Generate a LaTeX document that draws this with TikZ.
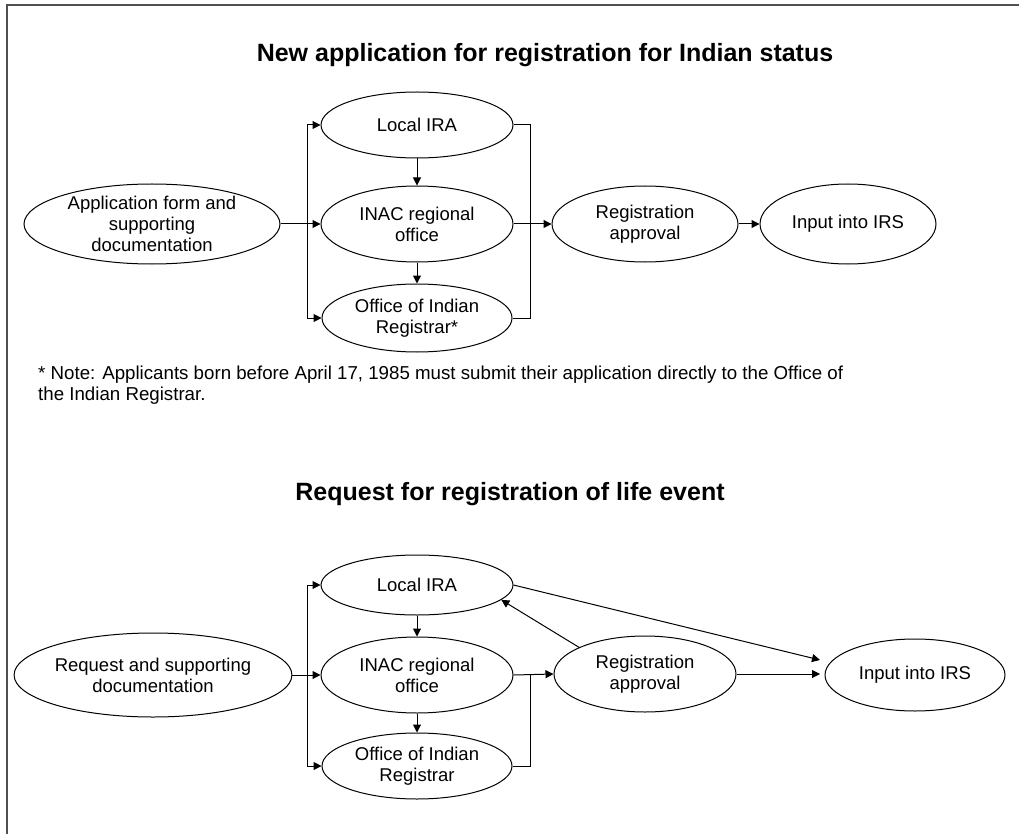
\documentclass[tikz,border=0pt]{standalone}
\usepackage{fontspec}
\setmainfont{Liberation Sans}
\usetikzlibrary{shapes.geometric,arrows.meta}
\definecolor{framegray}{RGB}{80,80,80}
\tikzset{
  stage/.style={ellipse,draw,line width=1pt,inner sep=0pt,align=center,font=\fontsize{18.5}{21}\selectfont},
  flow/.style={line width=1pt,-{Triangle[length=8pt,width=8pt]}},
  link/.style={line width=1pt},
  heading/.style={font=\fontsize{25}{28}\selectfont\bfseries},
  remark/.style={align=left,inner sep=0pt,font=\fontsize{18.7}{21}\selectfont},
}

\begin{document}
\begin{tikzpicture}[x=1pt,y=-1pt]
\useasboundingbox (0,0) rectangle (1019,834);
\draw[framegray,line width=2pt] (7,834) -- (7,5) -- (1019,5);

\node[heading] (title1) at (545,55) {New application for registration for Indian status};

\node[stage,minimum width=256,minimum height=80] (app) at (152,224) {Application form and\\supporting\\documentation};
\node[stage,minimum width=192,minimum height=66] (lira1) at (417,125) {Local IRA};
\node[stage,minimum width=192,minimum height=76] (inac1) at (417,224) {INAC regional\\office};
\node[stage,minimum width=190,minimum height=68] (oir1) at (417,318) {Office of Indian\\Registrar*};
\node[stage,minimum width=186,minimum height=76] (reg1) at (645,224) {Registration\\approval};
\node[stage,minimum width=176,minimum height=80] (irs1) at (848,224) {Input into IRS};
\coordinate (split1) at (307,224);
\coordinate (join1) at (530,224);

\draw[link] (app.east) -- (split1);
\draw[flow] (split1) -- (inac1.west);
\draw[flow] (split1) |- (lira1.west);
\draw[flow] (split1) |- (oir1.west);
\draw[flow] (lira1) -- (inac1);
\draw[flow] (inac1) -- (oir1);
\draw[link] (lira1.east) -| (join1);
\draw[link] (oir1.east) -| (join1);
\draw[link] (inac1.east) -- (join1);
\draw[flow] (join1) -- (reg1.west);
\draw[flow] (reg1) -- (irs1);

\node[remark,anchor=north west] (note) at (38,366) {* Note: Applicants born before April 17, 1985 must submit their application directly to the Office of\\the Indian Registrar.};

\node[heading] (title2) at (510,494) {Request for registration of life event};

\node[stage,minimum width=254,minimum height=84] (req) at (153,675) {Request and supporting\\documentation};
\node[stage,minimum width=192,minimum height=60] (lira2) at (417,585) {Local IRA};
\node[stage,minimum width=192,minimum height=76] (inac2) at (417,675) {INAC regional\\office};
\node[stage,minimum width=190,minimum height=66] (oir2) at (417,766) {Office of Indian\\Registrar};
\node[stage,minimum width=182,minimum height=76] (reg2) at (645,674) {Registration\\approval};
\node[stage,minimum width=180,minimum height=72] (irs2) at (915,675) {Input into IRS};
\coordinate (split2) at (307,675);
\coordinate (join2) at (530,675);
\coordinate (irsin) at (820,660);
\coordinate (irsmid) at (820,674);

\draw[link] (req.east) -- (split2);
\draw[flow] (split2) -- (inac2.west);
\draw[flow] (split2) |- (lira2.west);
\draw[flow] (split2) |- (oir2.west);
\draw[flow] (lira2) -- (inac2);
\draw[flow] (inac2) -- (oir2);
\draw[flow] (inac2.east) -- (reg2.west);
\draw[link] (oir2.east) -| (join2);
\draw[flow] (reg2.158) -- (lira2.-10);
\draw[flow] (lira2.east) -- (irsin);
\draw[flow] (reg2.east) -- (irsmid);

\end{tikzpicture}
\end{document}
